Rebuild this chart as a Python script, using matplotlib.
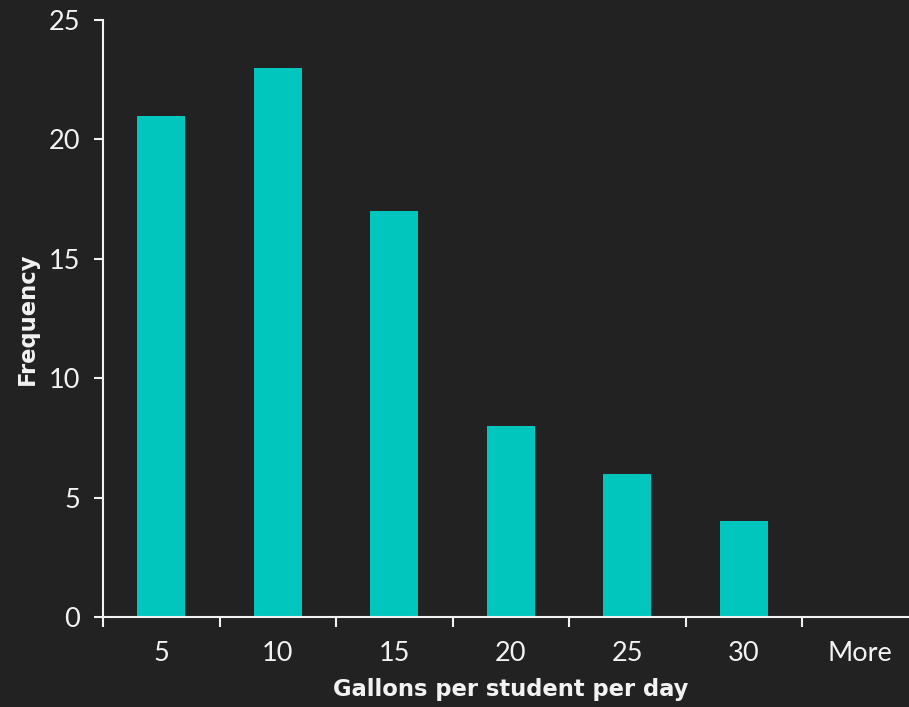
import matplotlib
matplotlib.use("Agg")
import matplotlib.pyplot as plt
import numpy as np

categories = ["5", "10", "15", "20", "25", "30", "More"]
frequency = [21, 23, 17, 8, 6, 4, 0]
y_ticks = [0, 5, 10, 15, 20, 25]

BG = "#222222"
BAR = "#00C6BD"
FG = "#F2F2F2"

plt.rcParams['font.family'] = ['Lato', 'DejaVu Sans']

fig = plt.figure(figsize=(9.09, 7.07), dpi=100, facecolor=BG)
W, H = 909, 707
x0, x1 = 103, 918.5
y0, y1 = 617, 20
ax = fig.add_axes([x0 / W, 1 - y0 / H, (x1 - x0) / W, (y0 - y1) / H])
ax.set_facecolor(BG)

pos = np.arange(len(categories))
ax.bar(pos, frequency, width=0.41, color=BAR, zorder=2)

ax.set_xlim(-0.5, len(categories) - 0.5)
ax.set_ylim(0, 25)
ax.set_yticks(y_ticks)
ax.set_yticklabels([str(v) for v in y_ticks])

ax.set_xticks(np.arange(-0.5, len(categories) - 0.5, 1.0))
ax.set_xticklabels([])
ax.set_xticks(pos, minor=True)
ax.set_xticklabels(categories, minor=True)
ax.tick_params(axis='x', which='minor', length=0, pad=17, labelsize=19.5, labelcolor=FG)
ax.tick_params(axis='x', which='major', length=7, width=1.5, color=FG, direction='out')
ax.tick_params(axis='y', length=6.5, width=1.5, color=FG, labelsize=19.5, labelcolor=FG, pad=10)

for s in ['top', 'right']:
    ax.spines[s].set_visible(False)
for s in ['left', 'bottom']:
    ax.spines[s].set_color(FG)
    ax.spines[s].set_linewidth(1.5)

lab_font = dict(family='DejaVu Sans', fontsize=16.3, fontweight='bold', color=FG)
ax.set_xlabel("Gallons per student per day", labelpad=9, **lab_font)
ax.set_ylabel("Frequency", labelpad=7, **lab_font)

fig.savefig("out.png", dpi=100, facecolor=BG)
